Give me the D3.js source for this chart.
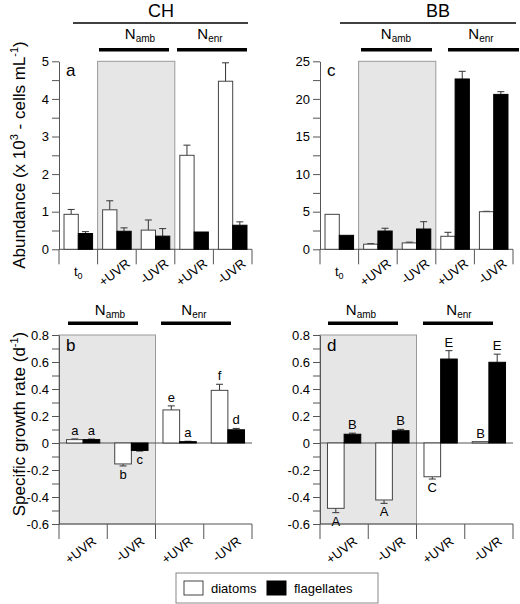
<!DOCTYPE html>
<html><head><meta charset="utf-8">
<script src="https://cdn.jsdelivr.net/npm/d3@7"></script>
<style>
body{margin:0;background:#fff;}
text{font-family:"Liberation Sans",Arial,sans-serif;fill:#000;}
</style></head>
<body><svg id="c" width="520" height="604"></svg>
<script>
// ---------- DATA ----------
const abundCats = ["t0", "+UVR", "-UVR", "+UVR", "-UVR"];
const growthCats = ["+UVR", "-UVR", "+UVR", "-UVR"];

// Panel a (CH abundance, x10^3 cells mL-1)
const chDiatoms = [0.93, 1.05, 0.51, 2.50, 4.47];
const chDiatomsErr = [0.13, 0.24, 0.27, 0.27, 0.49];
const chFlag = [0.42, 0.48, 0.35, 0.46, 0.64];
const chFlagErr = [0.05, 0.09, 0.20, 0, 0.09];

// Panel c (BB abundance)
const bbDiatoms = [4.65, 0.68, 0.85, 1.73, 5.0];
const bbDiatomsErr = [0, 0.07, 0.1, 0.53, 0.05];
const bbFlag = [1.86, 2.43, 2.7, 22.65, 20.6];
const bbFlagErr = [0, 0.37, 0.97, 1.02, 0.36];

// Panel b (CH growth rate, d-1)
const chGrowthDiat = [0.025, -0.155, 0.245, 0.39];
const chGrowthDiatErr = [0.005, 0.015, 0.03, 0.045];
const chGrowthFlag = [0.025, -0.055, 0.01, 0.098];
const chGrowthFlagErr = [0.004, 0.005, 0.003, 0.01];
const chLetDiat = ["a", "b", "e", "f"];
const chLetFlag = ["a", "c", "a", "d"];

// Panel d (BB growth rate)
const bbGrowthDiat = [-0.484, -0.422, -0.25, 0.01];
const bbGrowthDiatErr = [0.032, 0.025, 0.017, 0];
const bbGrowthFlag = [0.065, 0.091, 0.622, 0.598];
const bbGrowthFlagErr = [0.008, 0.01, 0.062, 0.06];
const bbLetDiat = ["A", "A", "C", "B"];
const bbLetFlag = ["B", "B", "E", "E"];

const abundTicksA = d3.range(0, 5.01, 0.5);
const abundTicksC = d3.range(0, 25.01, 2.5);
const growthTicks = d3.range(-6, 9).map(v => v / 10);
const legendLabels = ["diatoms", "flagellates"];
const siteLabels = ["CH", "BB"];

// ---------- DRAWING ----------
const svg = d3.select("#c");
const FONT = "Liberation Sans, Arial, sans-serif";

function panel(o) {
  const g = svg.append("g");
  const x = d3.scaleBand().domain(d3.range(o.cats.length)).range([o.x0, o.x1]);
  const y = d3.scaleLinear().domain(o.domain).range([o.yBot, o.yTop]);
  const zeroY = y(0);
  const axisY = o.yBot;
  // shaded region
  g.append("rect")
    .attr("x", x(o.shade[0])).attr("y", o.yTop)
    .attr("width", x(o.shade[1]) + x.bandwidth() - x(o.shade[0]))
    .attr("height", (o.shadeToBottom ? o.yBot : zeroY) - o.yTop)
    .attr("fill", "#e6e6e6").attr("stroke", "#999").attr("stroke-width", 1);
  // y axis
  const ax = d3.axisLeft(y).tickValues(o.ticks).tickSize(7).tickSizeOuter(0).tickPadding(3)
    .tickFormat(v => o.labelOk(v) ? o.fmt(v) : "");
  const ga = g.append("g").attr("transform", `translate(${o.x0},0)`).call(ax);
  ga.selectAll("text").attr("font-family", FONT).attr("font-size", 13).attr("fill", "#000");
  ga.selectAll("line,path").attr("stroke", "#555");
  // zero line and x axis
  g.append("line").attr("x1", o.x0).attr("x2", o.x1).attr("y1", zeroY).attr("y2", zeroY).attr("stroke", "#555");
  if (axisY !== zeroY) g.append("line").attr("x1", o.x0).attr("x2", o.x1).attr("y1", axisY).attr("y2", axisY).attr("stroke", "#555");
  d3.range(o.cats.length + 1).forEach(i => {
    const xx = i < o.cats.length ? x(i) : o.x1;
    g.append("line").attr("x1", xx).attr("x2", xx).attr("y1", axisY).attr("y2", axisY + 15).attr("stroke", "#555");
  });
  // bars
  const bw = x.bandwidth() * o.frac;
  const series = [
    {v: o.diat, e: o.diatErr, fill: "#fff", off: -bw, let: o.letD},
    {v: o.flag, e: o.flagErr, fill: "#000", off: 0, let: o.letF}
  ];
  series.forEach(s => {
    s.v.forEach((v, i) => {
      const cx = x(i) + x.bandwidth() / 2;
      const bx = cx + s.off;
      const top = Math.min(y(v), zeroY), h = Math.abs(y(v) - zeroY);
      const e = s.e[i];
      const ey = v >= 0 ? y(v + e) : y(v - e);
      if (e > 0) {
        g.append("line").attr("x1", bx + bw / 2).attr("x2", bx + bw / 2).attr("y1", y(v)).attr("y2", ey).attr("stroke", "#333");
        g.append("line").attr("x1", bx + bw / 2 - 3.5).attr("x2", bx + bw / 2 + 3.5).attr("y1", ey).attr("y2", ey).attr("stroke", "#333");
      }
      g.append("rect").attr("x", bx).attr("y", top).attr("width", bw).attr("height", Math.max(h, 0.5))
        .attr("fill", s.fill).attr("stroke", s.fill === "#000" ? "#000" : "#444").attr("stroke-width", 1);
      if (s.let) {
        const ly = v >= 0 ? Math.min(ey, y(v)) - 4 : Math.max(ey, y(v)) + 13;
        g.append("text").attr("x", bx + bw / 2).attr("y", ly).attr("text-anchor", "middle")
          .attr("font-size", 13).text(s.let[i]);
      }
    });
  });
  // category labels
  o.cats.forEach((c, i) => {
    const cx = x(i) + x.bandwidth() / 2;
    if (c === "t0") {
      const t = g.append("text").attr("x", cx).attr("y", axisY + 27).attr("text-anchor", "middle").attr("font-size", 13);
      t.append("tspan").text("t");
      t.append("tspan").attr("font-size", 9).attr("dy", 3).text("0");
    } else {
      g.append("text").attr("transform", `translate(${cx + 14},${axisY + o.labOff}) rotate(-38)`)
        .attr("text-anchor", "end").attr("font-size", 13).text(c);
    }
  });
  // panel letter
  g.append("text").attr("x", o.x0 + 7).attr("y", o.yTop + o.letterDy).attr("font-size", 17).text(o.letter);
}

function nLabel(cx, y, sub) {
  const t = svg.append("text").attr("x", cx).attr("y", y).attr("text-anchor", "middle").attr("font-size", 15);
  t.append("tspan").text("N");
  t.append("tspan").attr("font-size", 10).attr("dy", 3).text(sub);
}
function thick(x1, x2, y) {
  svg.append("line").attr("x1", x1).attr("x2", x2).attr("y1", y).attr("y2", y).attr("stroke", "#000").attr("stroke-width", 3.5);
}

const fmtA = v => d3.format("d")(v);
const fmtG = v => v === 0 ? "0" : d3.format(".1f")(v).replace("−", "-");

panel({cats: abundCats, x0: 59, x1: 252, yTop: 61.3, yBot: 249.3, domain: [0, 5], ticks: abundTicksA,
  labelOk: v => Math.abs(v - Math.round(v)) < 1e-6, fmt: fmtA, shade: [1, 2], shadeToBottom: true, frac: 0.37,
  diat: chDiatoms, diatErr: chDiatomsErr, flag: chFlag, flagErr: chFlagErr, letter: "a", letterDy: 15, labOff: 16});
panel({cats: abundCats, x0: 320, x1: 513, yTop: 61.3, yBot: 249.3, domain: [0, 25], ticks: abundTicksC,
  labelOk: v => Math.abs(v / 5 - Math.round(v / 5)) < 1e-6, fmt: fmtA, shade: [1, 2], shadeToBottom: true, frac: 0.37,
  diat: bbDiatoms, diatErr: bbDiatomsErr, flag: bbFlag, flagErr: bbFlagErr, letter: "c", letterDy: 15, labOff: 16});
panel({cats: growthCats, x0: 59, x1: 252, yTop: 335, yBot: 524, domain: [-0.6, 0.8], ticks: growthTicks,
  labelOk: v => Math.abs(v * 5 - Math.round(v * 5)) < 1e-6, fmt: fmtG, shade: [0, 1], shadeToBottom: true, frac: 0.345,
  diat: chGrowthDiat, diatErr: chGrowthDiatErr, flag: chGrowthFlag, flagErr: chGrowthFlagErr,
  letD: chLetDiat, letF: chLetFlag, letter: "b", letterDy: 16, labOff: 19});
panel({cats: growthCats, x0: 320, x1: 513, yTop: 335, yBot: 524, domain: [-0.6, 0.8], ticks: growthTicks,
  labelOk: v => Math.abs(v * 5 - Math.round(v * 5)) < 1e-6, fmt: fmtG, shade: [0, 1], shadeToBottom: true, frac: 0.345,
  diat: bbGrowthDiat, diatErr: bbGrowthDiatErr, flag: bbGrowthFlag, flagErr: bbGrowthFlagErr,
  letD: bbLetDiat, letF: bbLetFlag, letter: "d", letterDy: 16, labOff: 19});

// site headers
[[161, 73, 248], [438, 340, 516]].forEach((p, i) => {
  svg.append("text").attr("x", p[0]).attr("y", 17).attr("text-anchor", "middle").attr("font-size", 18).text(siteLabels[i]);
  svg.append("line").attr("x1", p[1]).attr("x2", p[2]).attr("y1", 23).attr("y2", 23).attr("stroke", "#000").attr("stroke-width", 1.5);
});
// nutrient headers
nLabel(140, 39, "amb"); thick(99, 169, 49.7);
nLabel(210, 39, "enr"); thick(177, 247, 49.7);
nLabel(396, 39, "amb"); thick(361, 432, 49.7);
nLabel(481, 39, "enr"); thick(448, 519, 49.7);
nLabel(110, 315, "amb"); thick(68, 138, 323.3);
nLabel(194, 315, "enr"); thick(161, 231, 323.3);
nLabel(361, 315, "amb"); thick(328, 398, 323.3);
nLabel(459, 315, "enr"); thick(423, 493, 323.3);

// y-axis titles
const t1 = svg.append("text").attr("transform", "translate(25,155) rotate(-90)").attr("text-anchor", "middle").attr("font-size", 17);
t1.append("tspan").text("Abundance (x 10");
t1.append("tspan").attr("font-size", 11).attr("dy", -7).text("3");
t1.append("tspan").attr("dy", 7).text(" - cells mL");
t1.append("tspan").attr("font-size", 11).attr("dy", -7).text("-1");
t1.append("tspan").attr("dy", 7).text(")");
const t2 = svg.append("text").attr("transform", "translate(25,424) rotate(-90)").attr("text-anchor", "middle").attr("font-size", 17);
t2.append("tspan").text("Specific growth rate (d");
t2.append("tspan").attr("font-size", 11).attr("dy", -7).text("-1");
t2.append("tspan").attr("dy", 7).text(")");

// legend
svg.append("rect").attr("x", 176).attr("y", 573).attr("width", 202).attr("height", 30).attr("fill", "#fff").attr("stroke", "#888");
svg.append("rect").attr("x", 184).attr("y", 581).attr("width", 19).attr("height", 14).attr("fill", "#fff").attr("stroke", "#444");
svg.append("text").attr("x", 211).attr("y", 593).attr("font-size", 13).text(legendLabels[0]);
svg.append("rect").attr("x", 267).attr("y", 581).attr("width", 19).attr("height", 14).attr("fill", "#000").attr("stroke", "#000");
svg.append("text").attr("x", 294).attr("y", 593).attr("font-size", 13).text(legendLabels[1]);
</script></body></html>
